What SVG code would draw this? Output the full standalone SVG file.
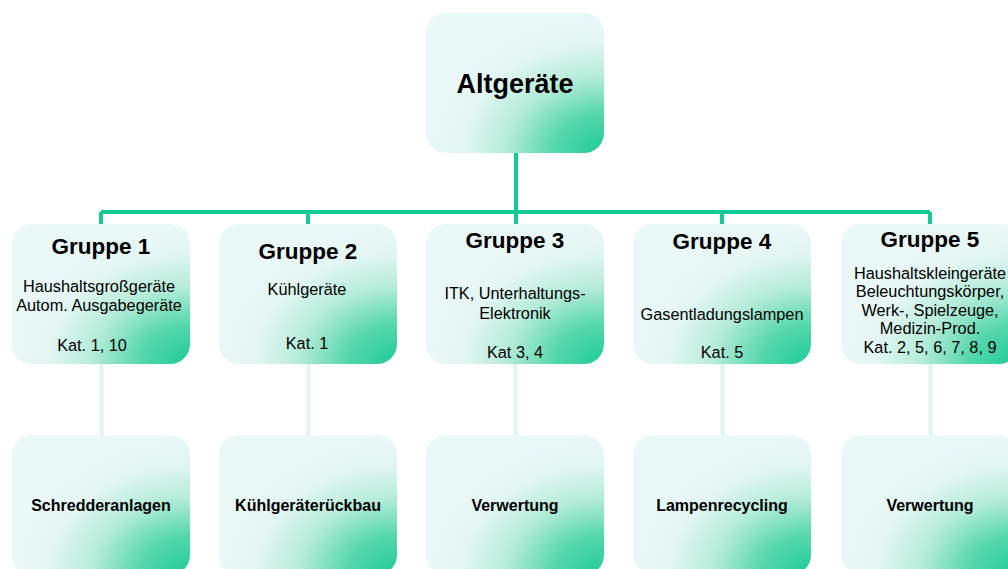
<svg xmlns="http://www.w3.org/2000/svg" width="1008" height="569" viewBox="0 0 1008 569">
<style>
.box{fill:url(#g)}
.t{font-family:"Liberation Sans",Arial,sans-serif;fill:#000;text-anchor:middle}
.h1{font-size:27px;font-weight:bold}
.h2{font-size:22.5px;font-weight:bold}
.b{font-size:16.3px}
.bb{font-size:16px;font-weight:bold}
.c1{stroke:#13C994;stroke-width:4;fill:none}
.c2{stroke:#E2F5F3;stroke-width:4;fill:none}
</style>
<defs>
<radialGradient id="g" cx="1" cy="1" r="1" fx="1" fy="1">
<stop offset="0" stop-color="#1ECB96"/>
<stop offset="0.28" stop-color="#55D7AC"/>
<stop offset="0.55" stop-color="#B5ECD9"/>
<stop offset="0.8" stop-color="#E3F6F3"/>
<stop offset="1" stop-color="#EAF8F8"/>
</radialGradient>
</defs>
<rect width="1008" height="569" fill="#fff"/>
<g id="connectors">
<path class="c1" d="M516 153V212M101 212H930M101 212V224M308 212V224M516 212V224M722 212V224M930 212V224"/>
<path class="c2" d="M101.5 364V435M308.5 364V435M515.5 364V435M722.5 364V435M930.5 364V435"/>
</g>
<g id="altgeraete">
<rect class="box" x="426" y="13" width="178" height="140" rx="20"/>
<text class="t h1" x="515" y="93">Altgeräte</text>
</g>
<g id="gruppe1">
<rect class="box" x="12" y="224" width="178" height="140" rx="20"/>
<text class="t h2" x="101" y="254">Gruppe 1</text>
<text class="t b" x="99" y="292">Haushaltsgroßgeräte</text>
<text class="t b" x="99" y="311">Autom. Ausgabegeräte</text>
<text class="t b" x="92" y="351">Kat. 1, 10</text>
</g>
<g id="gruppe2">
<rect class="box" x="219" y="224" width="178" height="140" rx="20"/>
<text class="t h2" x="308" y="259">Gruppe 2</text>
<text class="t b" x="307" y="295">Kühlgeräte</text>
<text class="t b" x="307" y="349">Kat. 1</text>
</g>
<g id="gruppe3">
<rect class="box" x="426" y="224" width="178" height="140" rx="20"/>
<text class="t h2" x="515" y="248">Gruppe 3</text>
<text class="t b" x="515" y="299">ITK, Unterhaltungs-</text>
<text class="t b" x="515" y="319">Elektronik</text>
<text class="t b" x="515" y="358">Kat 3, 4</text>
</g>
<g id="gruppe4">
<rect class="box" x="633" y="224" width="178" height="140" rx="20"/>
<text class="t h2" x="722" y="249">Gruppe 4</text>
<text class="t b" x="722" y="320">Gasentladungslampen</text>
<text class="t b" x="722" y="358">Kat. 5</text>
</g>
<g id="gruppe5">
<rect class="box" x="841" y="224" width="178" height="140" rx="20"/>
<text class="t h2" x="930" y="247">Gruppe 5</text>
<text class="t b" x="930" y="279">Haushaltskleingeräte</text>
<text class="t b" x="930" y="297">Beleuchtungskörper,</text>
<text class="t b" x="930" y="316">Werk-, Spielzeuge,</text>
<text class="t b" x="930" y="334">Medizin-Prod.</text>
<text class="t b" x="930" y="353">Kat. 2, 5, 6, 7, 8, 9</text>
</g>
<g id="schredderanlagen">
<rect class="box" x="12" y="435" width="178" height="140" rx="20"/>
<text class="t bb" x="101" y="511">Schredderanlagen</text>
</g>
<g id="kuehlgeraeterueckbau">
<rect class="box" x="219" y="435" width="178" height="140" rx="20"/>
<text class="t bb" x="308" y="511">Kühlgeräterückbau</text>
</g>
<g id="verwertung3">
<rect class="box" x="426" y="435" width="178" height="140" rx="20"/>
<text class="t bb" x="515" y="511">Verwertung</text>
</g>
<g id="lampenrecycling">
<rect class="box" x="633" y="435" width="178" height="140" rx="20"/>
<text class="t bb" x="722" y="511">Lampenrecycling</text>
</g>
<g id="verwertung5">
<rect class="box" x="841" y="435" width="178" height="140" rx="20"/>
<text class="t bb" x="930" y="511">Verwertung</text>
</g>
</svg>
